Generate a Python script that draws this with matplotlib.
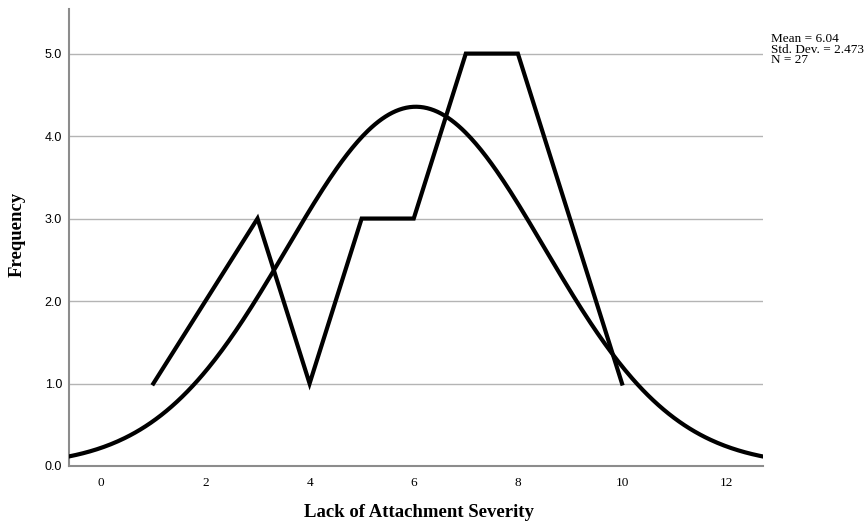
import numpy as np
import matplotlib.pyplot as plt

severity = [1, 2, 3, 4, 5, 6, 7, 8, 9, 10]
frequency = [1, 2, 3, 1, 3, 3, 5, 5, 3, 1]

mean = 6.04
std_dev = 2.473
n_cases = 27

x_min, x_max = -0.62, 12.7


def normal_curve(x, mu, sigma, n):
    return n / (sigma * np.sqrt(2 * np.pi)) * np.exp(-0.5 * ((x - mu) / sigma) ** 2)


fig = plt.figure(figsize=(8.67, 5.21), dpi=100)
ax = fig.add_axes([0.0796, 0.1056, 0.8, 0.877])

for y in [1, 2, 3, 4, 5]:
    ax.axhline(y, color='#b4b4b4', lw=1.0, zorder=1)

ax.plot(severity, frequency, color='black', lw=3, solid_joinstyle='miter', zorder=3)

xs = np.linspace(x_min, x_max, 400)
ax.plot(xs, normal_curve(xs, mean, std_dev, n_cases), color='black', lw=3, zorder=3)

ax.set_xlim(x_min, x_max)
ax.set_ylim(0, 5.54)

ax.set_xticks([0, 2, 4, 6, 8, 10, 12])
ax.set_xticklabels(['0', '2', '4', '6', '8', '10', '12'], family='Liberation Serif', fontsize=9.5)
ax.set_yticks([0, 1, 2, 3, 4, 5])
ax.set_yticklabels(['0.0', '1.0', '2.0', '3.0', '4.0', '5.0'], family='Liberation Sans', fontsize=9)
ax.tick_params(axis='y', length=0, pad=5)
ax.tick_params(axis='x', length=0, pad=8)

for side in ['top', 'right']:
    ax.spines[side].set_visible(False)
for side in ['left', 'bottom']:
    ax.spines[side].set_color('#8c8c8c')
    ax.spines[side].set_linewidth(1.5)

ax.set_xlabel('Lack of Attachment Severity', family='Liberation Serif', fontweight='bold',
              fontsize=13.5, va='baseline')
ax.xaxis.set_label_coords(0.505, -0.1116)
ax.set_ylabel('Frequency', family='Liberation Serif', fontweight='bold', fontsize=13.5, va='center')
ax.yaxis.set_label_coords(-0.075, 0.506)

fig.text(0.889, 0.9367, 'Mean = 6.04\nStd. Dev. = 2.473\nN = 27', family='Liberation Serif',
         fontsize=9.5, va='top', ha='left', linespacing=0.85)

fig.savefig('out.png', dpi=100, facecolor='white')
